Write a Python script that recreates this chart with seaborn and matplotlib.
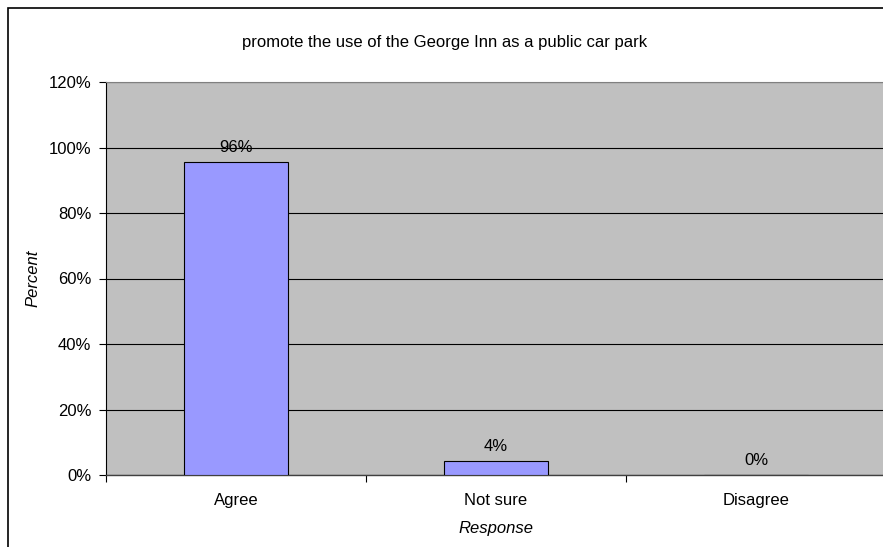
import matplotlib
matplotlib.use("Agg")
import matplotlib.pyplot as plt
import seaborn as sns
import pandas as pd
from matplotlib.patches import Rectangle

# chart data
responses = ["Agree", "Not sure", "Disagree"]
percent = [95.7, 4.3, 0.0]
bar_labels = ["96%", "4%", "0%"]
y_ticks = [0, 20, 40, 60, 80, 100, 120]
title = "promote the use of the George Inn as a public car park"

sns.set_style("white")
plt.rcParams["font.family"] = ["Liberation Sans", "DejaVu Sans"]
plt.rcParams["text.color"] = "black"
plt.rcParams["axes.labelcolor"] = "black"
plt.rcParams["xtick.color"] = "black"
plt.rcParams["ytick.color"] = "black"

fs = 12

df = pd.DataFrame({"Response": responses, "Percent": percent})

fig = plt.figure(figsize=(8.83, 5.47), dpi=100)
ax = fig.add_axes([106 / 883, 1 - 475 / 547, 780 / 883, 393 / 547])

sns.barplot(data=df, x="Response", y="Percent", color="#9999FF",
            saturation=1, width=0.4, edgecolor="black", linewidth=0.8,
            ax=ax, zorder=3)

ax.set_facecolor("#C0C0C0")
ax.set_ylim(0, 120)
ax.set_xlim(-0.5, 2.5)
ax.set_yticks(y_ticks)
ax.set_yticklabels([f"{t}%" for t in y_ticks], fontsize=fs)
ax.yaxis.grid(True, color="black", linewidth=0.8)
ax.set_axisbelow(True)

# category ticks sit between the groups
ax.set_xticks([0, 1, 2])
ax.set_xticklabels(responses, fontsize=fs)
ax.tick_params(axis="x", length=0, pad=13)
ax.set_xticks([-0.5, 0.5, 1.5, 2.5], minor=True)
ax.tick_params(axis="x", which="minor", length=5, width=0.8, direction="out",
               color="black", bottom=True)
ax.tick_params(axis="y", length=5, width=0.8, direction="out", left=True,
               color="black", pad=5.5)

for side in ["top", "right"]:
    ax.spines[side].set_color("#808080")
    ax.spines[side].set_linewidth(0.8)
ax.spines["left"].set_color("black")
ax.spines["left"].set_linewidth(0.8)
ax.spines["bottom"].set_color("#404040")
ax.spines["bottom"].set_linewidth(1.0)

for i, (v, lab) in enumerate(zip(percent, bar_labels)):
    ax.annotate(lab, (i, v), xytext=(0, 5), textcoords="offset points",
                ha="center", va="bottom", fontsize=fs, zorder=4)

ax.set_xlabel("Response", fontsize=fs, style="italic", labelpad=9)
ax.set_ylabel("Percent", fontsize=fs, style="italic", labelpad=6)

fig.text(445 / 883, 1 - 42 / 547, title, ha="center", va="center",
         fontsize=fs)

# outer chart border
fig.patches.append(Rectangle((8 / 883, -0.1), 1.2, 1 - 8 / 547 + 0.1,
                             transform=fig.transFigure, fill=False,
                             edgecolor="black", linewidth=1.2))

fig.savefig("out.png", dpi=100)
